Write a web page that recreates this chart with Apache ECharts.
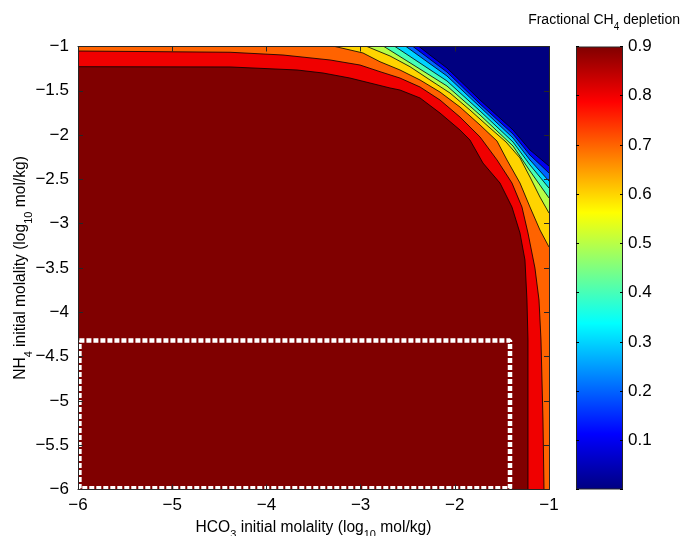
<!DOCTYPE html>
<html><head><meta charset="utf-8">
<script src="https://cdn.jsdelivr.net/npm/echarts@6/dist/echarts.min.js"></script>
<style>html,body{margin:0;padding:0;background:#fff}#c{width:685px;height:536px}</style>
</head><body><div id="c"></div>
<script>
// ---- data ----
const xTicks = [-6, -5, -4, -3, -2, -1];
const yTicks = [-6, -5.5, -5, -4.5, -4, -3.5, -3, -2.5, -2, -1.5, -1];
const cbTicks = [0.1, 0.2, 0.3, 0.4, 0.5, 0.6, 0.7, 0.8, 0.9];
const levels = [0.1, 0.2, 0.3, 0.4, 0.5, 0.6, 0.7, 0.8, 0.9];
const cbMax = [0.9];

// contour boundary lines [log10 HCO3, log10 NH4]; region at lower-left of each line is >= level
const c01 = [[-2.38,-1],[-2.264,-1.096],[-2.083,-1.243],[-1.732,-1.604],[-1.382,-1.942],[-1.202,-2.168],[-1,-2.349]];
const c02 = [[-2.444,-1],[-2.083,-1.288],[-1.732,-1.649],[-1.382,-1.988],[-1.202,-2.225],[-1,-2.428]];
const c03 = [[-2.518,-1],[-2.083,-1.333],[-1.732,-1.683],[-1.382,-2.033],[-1.202,-2.281],[-1,-2.519]];
const c04 = [[-2.635,-1],[-2.083,-1.389],[-1.732,-1.728],[-1.382,-2.078],[-1.202,-2.337],[-1,-2.598]];
const c05 = [[-2.752,-1],[-2.083,-1.446],[-1.732,-1.773],[-1.382,-2.123],[-1.202,-2.405],[-1,-2.71]];
const c06 = [[-2.932,-1],[-2.688,-1.107],[-2.476,-1.228],[-2.263,-1.378],[-2.051,-1.525],[-1.839,-1.717],[-1.626,-1.92],[-1.456,-2.078],[-1.308,-2.258],[-1.202,-2.473],[-1.096,-2.699],[-1,-2.88]];
const c07 = [[-3.272,-1],[-2.975,-1.073],[-2.794,-1.172],[-2.582,-1.265],[-2.369,-1.378],[-2.157,-1.514],[-1.945,-1.683],[-1.732,-1.886],[-1.552,-2.067],[-1.446,-2.281],[-1.308,-2.541],[-1.202,-2.812],[-1.096,-3.071],[-1,-3.263]];
const c08 = [[-6,-1.051],[-4.386,-1.065],[-3.824,-1.096],[-3.325,-1.152],[-3.006,-1.209],[-2.794,-1.284],[-2.582,-1.356],[-2.369,-1.457],[-2.157,-1.604],[-1.945,-1.796],[-1.732,-2.021],[-1.552,-2.28],[-1.393,-2.541],[-1.287,-2.812],[-1.223,-3.105],[-1.149,-3.501],[-1.106,-3.861],[-1.085,-4.312],[-1.064,-5.215],[-1.053,-6]];
const c09 = [[-6,-1.228],[-4.386,-1.231],[-3.675,-1.265],[-3.399,-1.299],[-3.113,-1.356],[-2.9,-1.412],[-2.688,-1.468],[-2.582,-1.491],[-2.369,-1.581],[-2.157,-1.751],[-1.945,-1.942],[-1.839,-2.055],[-1.701,-2.315],[-1.52,-2.541],[-1.393,-2.812],[-1.308,-3.105],[-1.255,-3.41],[-1.234,-3.861],[-1.223,-4.312],[-1.223,-6]];
const contours = [c01, c02, c03, c04, c05, c06, c07, c08, c09];

// dotted white rectangle (highlighted domain)
const boxX = [-5.985, -1.414, -1.414, -5.985, -5.985];
const boxY = [-4.318, -4.318, -5.985, -5.985, -4.318];

// ---- styling ----
const bandColors = ['#0000F0','#0063FF','#00D4FF','#47FFB8','#B8FF47','#FFD400','#FF6300','#F00000','#800000'];
const belowColor = '#000080';
const jetStops = [[0,'#000080'],[0.125,'#0000FF'],[0.375,'#00FFFF'],[0.625,'#FFFF00'],[0.875,'#FF0000'],[1,'#800000']];
const FONT = 'Liberation Sans, Arial, Helvetica, sans-serif';
const axisCol = '#262626';
const TICKFS = 17;
const fmtNeg = v => (v < 0 ? '\u2212' : '') + Math.abs(v);

const chart = echarts.init(document.getElementById('c'), null, {renderer: 'canvas'});

const series = [];
contours.forEach((pts, i) => {
  const data = pts[0][1] === -1 && pts[0][0] > -6 ? [[-6, -1]].concat(pts) : pts.slice();
  series.push({
    type: 'line', xAxisIndex: 0, yAxisIndex: 0, data: data,
    symbol: 'none', smooth: false, silent: true, z: 2 + i * 0.01,
    lineStyle: {color: '#000', width: 0.8},
    itemStyle: {color: bandColors[i]},
    areaStyle: {color: bandColors[i], opacity: 1, origin: 'start'}
  });
});
series.push({
  type: 'line', xAxisIndex: 0, yAxisIndex: 0,
  data: boxX.map((x, i) => [x, boxY[i]]),
  symbol: 'none', silent: true, z: 5, clip: false,
  lineStyle: {color: '#fff', width: 4.5, type: [5, 2]}
});
series.push({
  type: 'bar', xAxisIndex: 2, yAxisIndex: 2, data: cbMax, barWidth: '100%', silent: true,
  itemStyle: {
    borderColor: axisCol, borderWidth: 1,
    color: new echarts.graphic.LinearGradient(0, 1, 0, 0, jetStops.map(s => ({offset: s[0], color: s[1]})))
  }
});

const NAMEFS = 15.6;
const richName = {
  n: {fontFamily: FONT, fontSize: NAMEFS, color: '#000', padding: [0, 0, 5, 0], verticalAlign: 'bottom'},
  s: {fontFamily: FONT, fontSize: 11, color: '#000', verticalAlign: 'bottom'}
};

const mainAxisCommon = {
  type: 'value', gridIndex: 0, z: 10,
  axisLine: {show: true, onZero: false, lineStyle: {color: axisCol, width: 1}},
  axisTick: {show: true, inside: true, length: 5, lineStyle: {color: axisCol}},
  splitLine: {show: false}
};

chart.setOption({
  animation: false,
  backgroundColor: '#fff',
  title: {
    text: '{n|Fractional CH}{s|4}{n| depletion}',
    right: 0, top: 8,
    textStyle: {fontFamily: FONT, fontSize: 14, fontWeight: 'normal', color: '#000',
      rich: {n: {fontFamily: FONT, fontSize: 14, color: '#000', padding: [0,0,5,0], verticalAlign: 'bottom'},
             s: {fontFamily: FONT, fontSize: 10, color: '#000', verticalAlign: 'bottom'}}}
  },
  grid: [
    {left: 78, top: 46.5, width: 471, height: 443, show: true, backgroundColor: belowColor, borderWidth: 0,
     containLabel: false, outerBoundsMode: 'none'},
    {left: 576, top: 46.5, width: 47, height: 443, show: false, containLabel: false, outerBoundsMode: 'none'}
  ],
  xAxis: [
    Object.assign({}, mainAxisCommon, {
      position: 'bottom', min: xTicks[0], max: xTicks[xTicks.length - 1], interval: 1,
      axisLabel: {fontFamily: FONT, fontSize: TICKFS, color: '#000', margin: 7, formatter: fmtNeg},
      name: '{n|HCO}{s|3}{n| initial molality (log}{s|10}{n| mol/kg)}',
      nameLocation: 'middle', nameGap: 30, nameMoveOverlap: false,
      nameTextStyle: {fontFamily: FONT, fontSize: NAMEFS, color: '#000', rich: richName}
    }),
    Object.assign({}, mainAxisCommon, {
      position: 'top', min: xTicks[0], max: xTicks[xTicks.length - 1], interval: 1,
      axisLabel: {show: false}
    }),
    {type: 'category', gridIndex: 1, data: ['cb'], show: false}
  ],
  yAxis: [
    Object.assign({}, mainAxisCommon, {
      position: 'left', min: yTicks[0], max: yTicks[yTicks.length - 1], interval: 0.5,
      axisLabel: {fontFamily: FONT, fontSize: TICKFS, color: '#000', margin: 9, formatter: fmtNeg},
      name: '{n|NH}{s|4}{n| initial molality (log}{s|10}{n| mol/kg)}',
      nameLocation: 'middle', nameGap: 44, nameRotate: 90, nameMoveOverlap: false,
      nameTextStyle: {fontFamily: FONT, fontSize: NAMEFS, color: '#000', rich: richName}
    }),
    Object.assign({}, mainAxisCommon, {
      position: 'right', min: yTicks[0], max: yTicks[yTicks.length - 1], interval: 0.5,
      axisLabel: {show: false}
    }),
    {
      type: 'value', gridIndex: 1, position: 'right', min: 0, max: cbTicks[cbTicks.length - 1], interval: 0.1, z: 10,
      axisLine: {show: false},
      axisTick: {show: true, inside: true, length: 3, lineStyle: {color: '#000'}},
      splitLine: {show: false},
      axisLabel: {fontFamily: FONT, fontSize: TICKFS, color: '#000', margin: 5,
        formatter: v => (v < 0.05 ? '' : v.toFixed(1))}
    },
    {
      type: 'value', gridIndex: 1, position: 'left', min: 0, max: cbTicks[cbTicks.length - 1], interval: 0.1, z: 10,
      axisLine: {show: false},
      axisTick: {show: true, inside: true, length: 3, lineStyle: {color: '#000'}},
      splitLine: {show: false},
      axisLabel: {show: false}
    }
  ],
  series: series
});
</script>
</body></html>
